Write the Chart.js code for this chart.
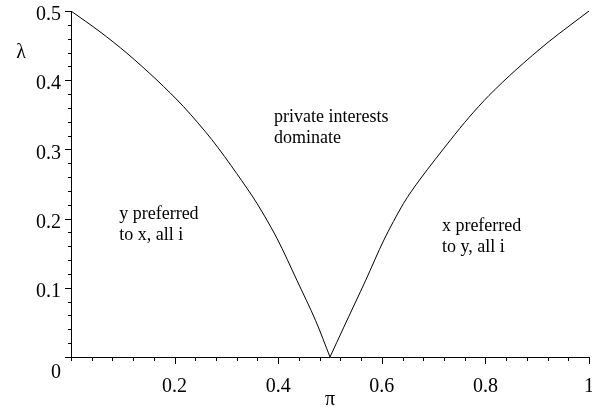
<!DOCTYPE html>
<html>
<head>
<meta charset="utf-8">
<script src="https://cdn.jsdelivr.net/npm/chart.js@4.4.1/dist/chart.umd.min.js"></script>
<style>
  html, body { margin: 0; padding: 0; background: #fff; }
  #wrap { width: 592px; height: 412px; }
</style>
</head>
<body>
<div id="wrap"><canvas id="chart" width="592" height="412"></canvas></div>
<script>
// Data
const leftPi = [0, 0.056, 0.108, 0.166, 0.217, 0.272, 0.320, 0.359, 0.398, 0.436, 0.472, 0.5];
const leftLambda = [0.5, 0.470, 0.439, 0.400, 0.362, 0.314, 0.265, 0.222, 0.171, 0.111, 0.053, 0];
const rightPi = [0.5, 0.526, 0.569, 0.604, 0.642, 0.674, 0.733, 0.768, 0.807, 0.859, 0.923, 1];
const rightLambda = [0, 0.042, 0.111, 0.169, 0.222, 0.257, 0.314, 0.346, 0.378, 0.415, 0.456, 0.5];

const xMajor = [0.2, 0.4, 0.6, 0.8, 1];
const yMajor = [0.1, 0.2, 0.3, 0.4, 0.5];

const regionLabels = [
  { lines: ['private interests', 'dominate'], pi: 0.392, lambda: 0.340 },
  { lines: ['y preferred', 'to x, all i'], pi: 0.093, lambda: 0.199 },
  { lines: ['x preferred', 'to y, all i'], pi: 0.716, lambda: 0.1825 }
];

const serif = '"Liberation Serif", "DejaVu Serif", serif';
const toPts = (xs, ys) => xs.map((x, i) => ({ x, y: ys[i] }));
const isMajor = (v, list) => list.some((m) => Math.abs(m - v) < 1e-6);

// Ticks (major/minor) and free text
const extras = {
  id: 'extras',
  afterDraw(chart) {
    const { ctx, scales: { x, y } } = chart;
    ctx.save();
    ctx.strokeStyle = '#000';
    ctx.lineWidth = 1;
    ctx.beginPath();
    x.ticks.forEach((t) => {
      const px = Math.round(x.getPixelForValue(t.value)) + 0.5;
      const len = isMajor(t.value, xMajor) ? 7 : 4;
      ctx.moveTo(px, y.bottom);
      ctx.lineTo(px, y.bottom + len);
    });
    y.ticks.forEach((t) => {
      const py = Math.round(y.getPixelForValue(t.value)) + 0.5;
      const len = isMajor(t.value, yMajor) || Math.abs(t.value) < 1e-6 ? 6 : 3;
      ctx.moveTo(x.left, py);
      ctx.lineTo(x.left - len, py);
    });
    ctx.stroke();

    ctx.fillStyle = '#000';
    ctx.font = '18px ' + serif;
    ctx.textAlign = 'left';
    ctx.textBaseline = 'alphabetic';
    regionLabels.forEach((r) => {
      const px = x.getPixelForValue(r.pi);
      const py = y.getPixelForValue(r.lambda);
      r.lines.forEach((s, i) => ctx.fillText(s, px, py + i * 21));
    });

    ctx.font = '20px ' + serif;
    ctx.textAlign = 'center';
    ctx.textBaseline = 'middle';
    ctx.fillText('0', x.left - 15, y.bottom + 16);
    ctx.fillText('λ', 21, 53);
    ctx.fillText('π', x.getPixelForValue(0.5), 400);
    ctx.restore();
  }
};

new Chart(document.getElementById('chart'), {
  type: 'line',
  data: {
    datasets: [
      { data: toPts(leftPi, leftLambda) },
      { data: toPts(rightPi, rightLambda) }
    ]
  },
  options: {
    responsive: false,
    animation: false,
    parsing: false,
    layout: { padding: { top: 11, right: 3, left: 0, bottom: 0 } },
    elements: {
      line: { borderColor: '#000', borderWidth: 1, tension: 0.3, fill: false },
      point: { radius: 0 }
    },
    plugins: { legend: { display: false }, tooltip: { enabled: false } },
    scales: {
      x: {
        type: 'linear',
        min: 0,
        max: 1,
        afterFit: (s) => { s.height = 55; s.paddingLeft = 0; s.paddingRight = 0; },
        grid: { display: false, drawTicks: false },
        border: { display: true, color: '#000', width: 1 },
        ticks: {
          stepSize: 0.04,
          autoSkip: false,
          maxRotation: 0,
          padding: 18,
          color: '#000',
          font: { family: serif, size: 20 },
          callback: (v) => (isMajor(v, xMajor) ? String(+v.toFixed(1)) : '')
        }
      },
      y: {
        type: 'linear',
        min: 0,
        max: 0.5,
        afterFit: (s) => { s.width = 71; s.paddingTop = 0; s.paddingBottom = 0; },
        grid: { display: false, drawTicks: false },
        border: { display: true, color: '#000', width: 1 },
        ticks: {
          stepSize: 0.02,
          autoSkip: false,
          padding: 10,
          labelOffset: 4,
          color: '#000',
          font: { family: serif, size: 20 },
          callback: (v) => (isMajor(v, yMajor) ? String(+v.toFixed(1)) : '')
        }
      }
    }
  },
  plugins: [extras]
});
</script>
</body>
</html>
